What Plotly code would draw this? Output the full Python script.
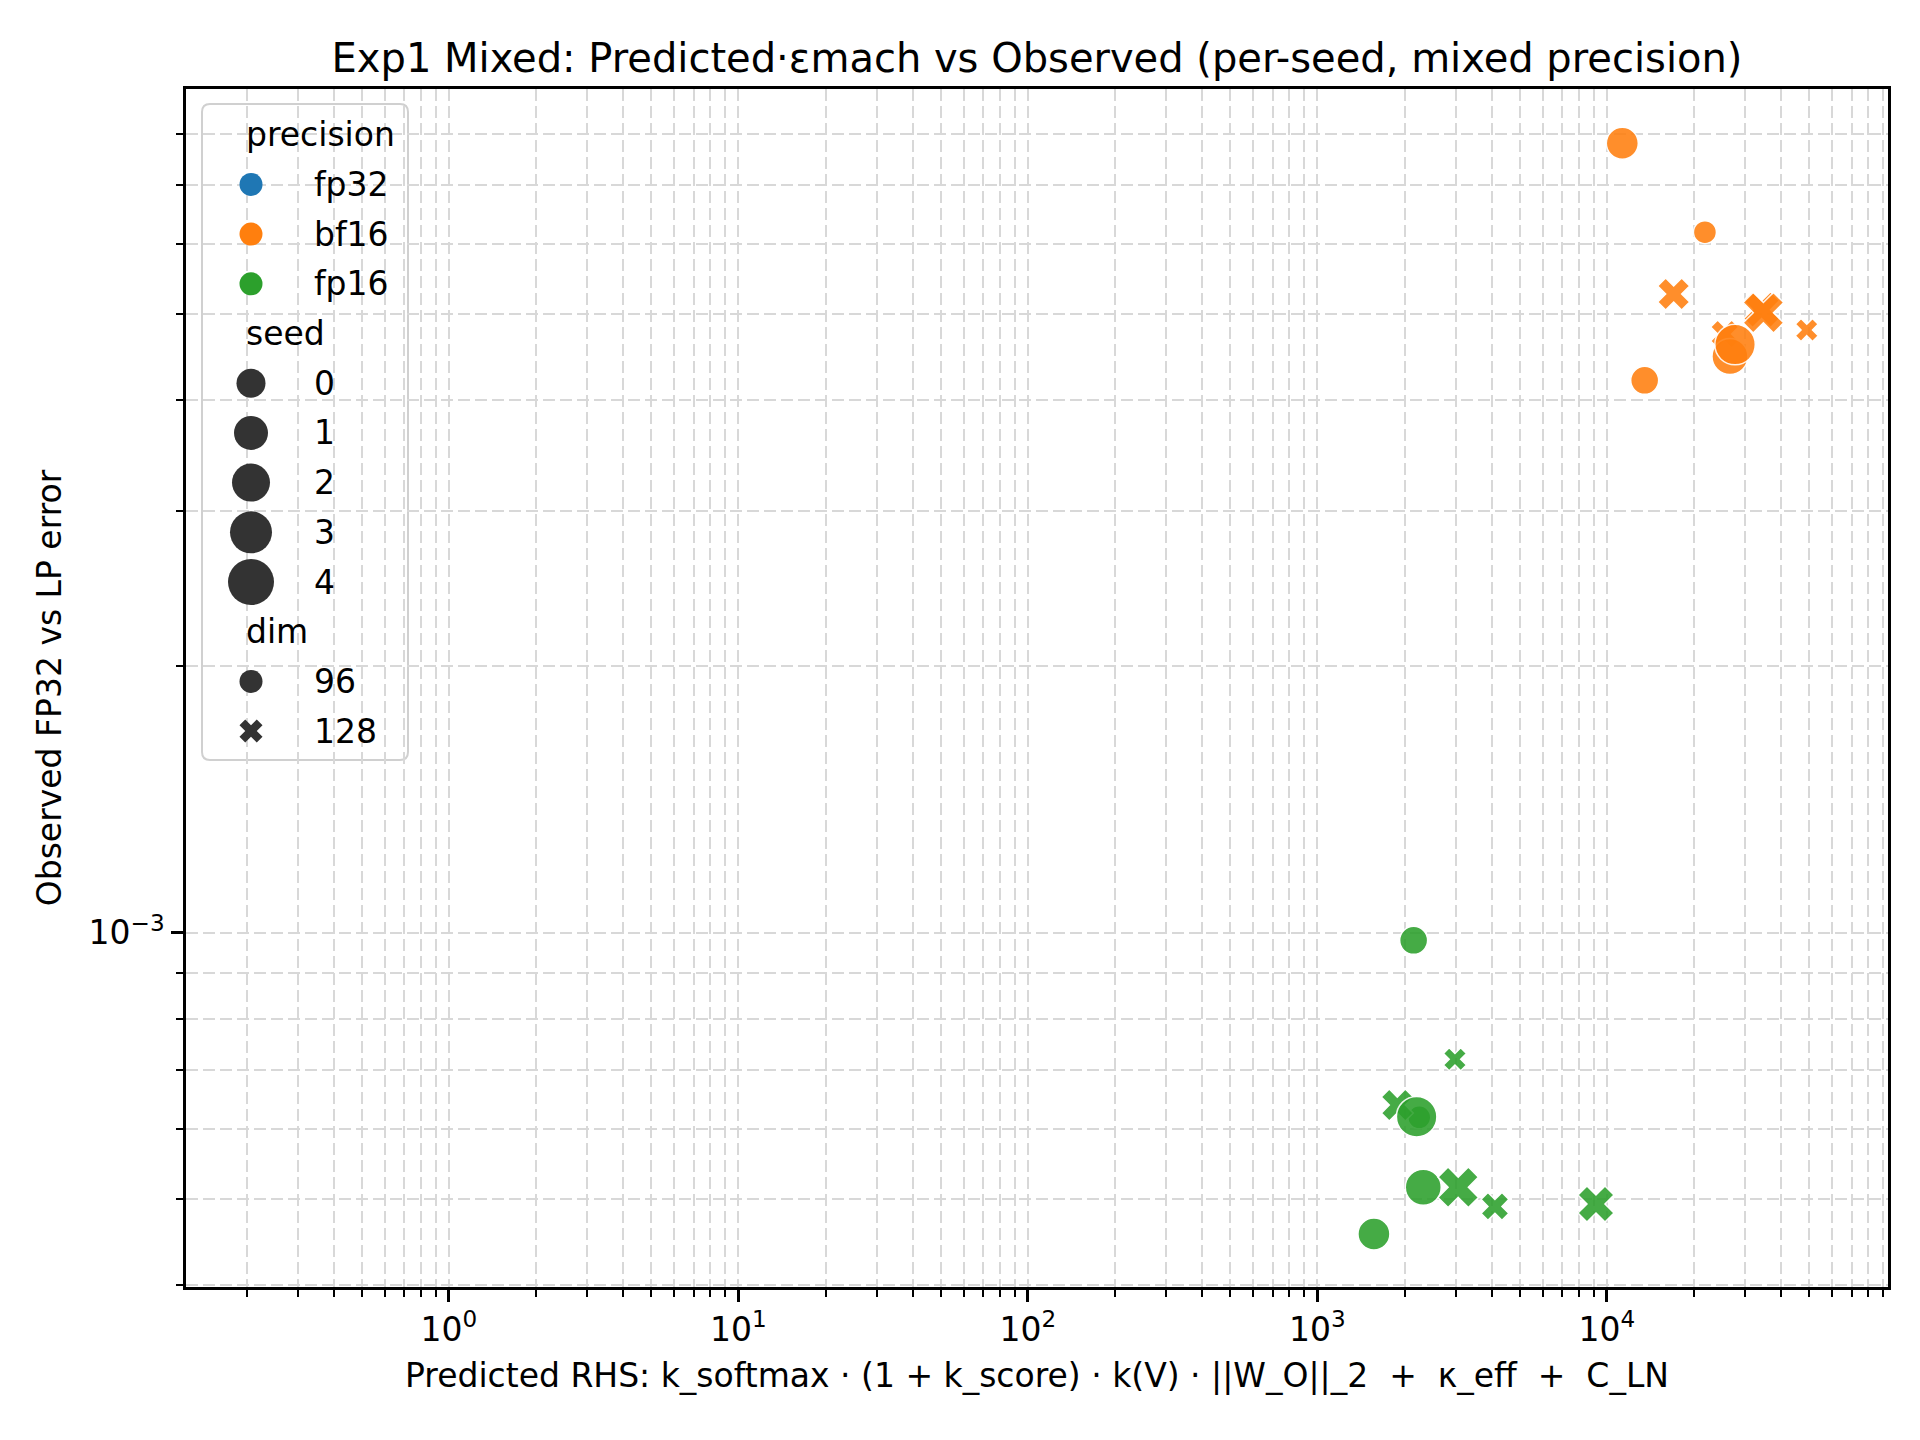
"""Exp1 Mixed: predicted RHS vs observed FP32-vs-LP error (log-log scatter)."""

import plotly.graph_objects as go

PRECISIONS = ["fp32", "bf16", "fp16"]
SEEDS = [0, 1, 2, 3, 4]
DIMS = [96, 128]

# rows ordered seed-major, dim 96 then dim 128 (fp32 has no rows)
bf16_seed = [0, 0, 1, 1, 2, 2, 3, 3, 4, 4]
bf16_dim = [96, 128, 96, 128, 96, 128, 96, 128, 96, 128]
bf16_pred = [21800, 49000, 13500, 25500, 11300, 17000, 26600, 34200, 27700, 34700]
bf16_obs = [6.19e-3, 4.80e-3, 4.21e-3, 4.75e-3, 7.80e-3, 5.27e-3, 4.48e-3, 5.06e-3, 4.62e-3, 5.02e-3]

fp16_seed = [0, 0, 1, 1, 2, 2, 3, 3, 4, 4]
fp16_dim = [96, 128, 96, 128, 96, 128, 96, 128, 96, 128]
fp16_pred = [2247, 2985, 2149, 4103, 1567, 1887, 2320, 9164, 2201, 3064]
fp16_obs = [6.19e-4, 7.20e-4, 9.81e-4, 4.91e-4, 4.57e-4, 6.39e-4, 5.16e-4, 4.94e-4, 6.20e-4, 5.16e-4]

X_MAJOR = [1, 10, 100, 1000, 10000]
X_MAJOR_TEXT = ["10<sup>0</sup>", "10<sup>1</sup>", "10<sup>2</sup>", "10<sup>3</sup>", "10<sup>4</sup>"]
Y_MAJOR = [1e-3]
Y_MAJOR_TEXT = ["10<sup>\u22123</sup>"]

COLORS = {"fp32": "#1f77b4", "bf16": "#ff7f0e", "fp16": "#2ca02c"}
MARKERS = {96: "circle", 128: "x"}
SEED_DIAM = {0: 23, 1: 28, 2: 32, 3: 36, 4: 40.5}
LEGEND_SEED_DIAM = {0: 29, 1: 34, 2: 38, 3: 42, 4: 46}
X_SCALE = 1 / 1.13  # plotly "x" is wider than its nominal size
FONT = "DejaVu Sans"
GRID = "#d8d8d8"
DASH = "12px,5px"


def marker_size(diam, dim):
    return diam * (X_SCALE if dim == 128 else 1.0)


fig = go.Figure()

for name, pred, obs, seeds, dims in [
    ("bf16", bf16_pred, bf16_obs, bf16_seed, bf16_dim),
    ("fp16", fp16_pred, fp16_obs, fp16_seed, fp16_dim),
]:
    fig.add_trace(go.Scatter(
        x=pred, y=obs, mode="markers", name=name, showlegend=False,
        marker=dict(
            color=COLORS[name], opacity=0.88,
            symbol=[MARKERS[d] for d in dims],
            size=[marker_size(SEED_DIAM[s], d) for s, d in zip(seeds, dims)],
            line=dict(color="white", width=1.5),
        ),
    ))

# page has an 8px body margin, so the figure sits at (8, 8)
W, H, OFF = 1920, 1440, 8
PX_L, PX_R, PX_T, PX_B = 186, 1888, 89, 1287   # plot area on the page

# --- hand-built legend on a hidden pixel-space overlay ---
row0, step = 134.7, 49.7
mark_x, text_x, title_x = 251, 312, 244

rows = [("title", "precision")] + [("hue", p) for p in PRECISIONS] \
    + [("title", "seed")] + [("size", s) for s in SEEDS] \
    + [("title", "dim")] + [("style", d) for d in DIMS]

lx, ly, lsym, lsize, lcol = [], [], [], [], []
annotations = []
for i, (kind, val) in enumerate(rows):
    y = row0 + i * step
    if kind == "title":
        annotations.append(dict(x=title_x, y=y, xref="x2", yref="y2", text=val,
                                showarrow=False, xanchor="left", yanchor="middle",
                                font=dict(family=FONT, size=33, color="black")))
        continue
    lx.append(mark_x)
    ly.append(y)
    if kind == "hue":
        lsym.append("circle"); lsize.append(23); lcol.append(COLORS[val])
    elif kind == "size":
        lsym.append("circle"); lsize.append(LEGEND_SEED_DIAM[val]); lcol.append("#333333")
    else:
        lsym.append(MARKERS[val]); lsize.append(marker_size(23, val)); lcol.append("#333333")
    annotations.append(dict(x=text_x, y=y, xref="x2", yref="y2", text=str(val),
                            showarrow=False, xanchor="left", yanchor="middle",
                            font=dict(family=FONT, size=33, color="black")))

fig.add_trace(go.Scatter(
    x=lx, y=ly, xaxis="x2", yaxis="y2", mode="markers", showlegend=False,
    hoverinfo="skip",
    marker=dict(symbol=lsym, size=lsize, color=lcol, opacity=1, line=dict(width=0)),
))

x0, y0, x1, y1, r = 202, 104, 408, 760, 8
box = (f"M {x0 + r},{y0} L {x1 - r},{y0} Q {x1},{y0} {x1},{y0 + r} "
       f"L {x1},{y1 - r} Q {x1},{y1} {x1 - r},{y1} L {x0 + r},{y1} "
       f"Q {x0},{y1} {x0},{y1 - r} L {x0},{y0 + r} Q {x0},{y0} {x0 + r},{y0} Z")
fig.add_shape(type="path", path=box, xref="x2", yref="y2", layer="below",
              fillcolor="rgba(255,255,255,0.8)", line=dict(color="#d0d0d0", width=2))

x_minor = [m * 10 ** e for e in range(-1, 5) for m in range(2, 10)]
y_minor = [m * 10 ** e for e in range(-4, -2) for m in range(2, 10)]

axis_common = dict(
    type="log", showline=True, linecolor="black", linewidth=2.5, mirror=True,
    ticks="outside", ticklen=12, tickwidth=2.5, tickcolor="black",
    showgrid=True, gridcolor=GRID, gridwidth=2, griddash=DASH, zeroline=False,
    tickfont=dict(family=FONT, size=33, color="black"),
)

fig.update_layout(
    width=W, height=H,
    margin=dict(l=PX_L - OFF, r=W + OFF - PX_R, t=PX_T - OFF, b=H + OFF - PX_B),
    paper_bgcolor="white", plot_bgcolor="white",
    font=dict(family=FONT, color="black"),
    title=dict(
        text="Exp1 Mixed: Predicted\u00b7\u03b5mach vs Observed (per-seed, mixed precision)",
        x=0.5, xref="paper", xanchor="center",
        y=1 - (57.5 - OFF) / H, yref="container", yanchor="middle",
        font=dict(family=FONT, size=40, color="black"),
    ),
    xaxis=dict(
        **axis_common, range=[-0.9083, 4.9708],
        tickmode="array", tickvals=X_MAJOR, ticktext=X_MAJOR_TEXT,
        minor=dict(tickmode="array", tickvals=x_minor, ticks="outside", ticklen=7,
                   tickwidth=2, tickcolor="black", showgrid=True, gridcolor=GRID,
                   gridwidth=2, griddash=DASH),
        title=dict(
            text="Predicted RHS: k_softmax \u00b7 (1 + k_score) \u00b7 k(V) \u00b7 ||W_O||_2 "
                 "\u00a0+\u00a0 \u03ba_eff \u00a0+\u00a0 C_LN",
            font=dict(family=FONT, size=33, color="black"), standoff=16,
        ),
    ),
    yaxis=dict(
        **axis_common, range=[-3.4, -2.0466],
        tickmode="array", tickvals=Y_MAJOR, ticktext=Y_MAJOR_TEXT,
        minor=dict(tickmode="array", tickvals=y_minor, ticks="outside", ticklen=7,
                   tickwidth=2, tickcolor="black", showgrid=True, gridcolor=GRID,
                   gridwidth=2, griddash=DASH),
        title=dict(text="Observed FP32 vs LP error",
                   font=dict(family=FONT, size=33, color="black"), standoff=18),
    ),
    xaxis2=dict(overlaying="x", range=[PX_L, PX_R], anchor="y2", visible=False,
                fixedrange=True, showgrid=False),
    yaxis2=dict(overlaying="y", range=[PX_B, PX_T], anchor="x2", visible=False,
                fixedrange=True, showgrid=False),
    annotations=annotations,
)

fig.write_html("out.html")
